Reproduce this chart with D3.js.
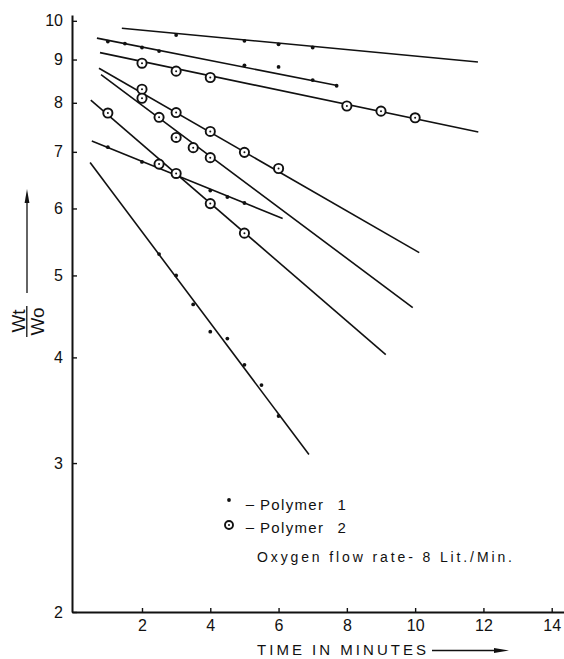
<!DOCTYPE html>
<html>
<head>
<meta charset="utf-8">
<script src="https://cdn.jsdelivr.net/npm/d3@7"></script>
<style>
  body { margin: 0; background: #fff; }
  svg { display: block; }
  text { font-family: "Liberation Sans", Arial, sans-serif; fill: #111; }
</style>
</head>
<body>
<svg id="chart" width="564" height="659"></svg>
<script>
// Axis ticks
const timeTicks = [2, 4, 6, 8, 10, 12, 14];
const ratioTicks = [2, 3, 4, 5, 6, 7, 8, 9, 10];

// Polymer 1 runs: time (min), Wt/Wo readings, fitted line ends [[t, ratio], [t, ratio]]
const p1aTime  = [3, 5, 6, 7];
const p1aRatio = [9.62, 9.47, 9.38, 9.30];
const p1aFit   = [[1.41, 9.80], [11.84, 8.94]];

const p1bTime  = [1, 1.5, 2, 2.5, 5, 6, 7, 7.7];
const p1bRatio = [9.45, 9.40, 9.30, 9.21, 8.86, 8.82, 8.51, 8.38];
const p1bFit   = [[0.68, 9.54], [7.68, 8.39]];

const p1cTime  = [1, 2, 4, 4.5, 5];
const p1cRatio = [7.09, 6.81, 6.30, 6.19, 6.09];
const p1cFit   = [[0.53, 7.21], [6.12, 5.84]];

const p1dTime  = [2.5, 3, 3.5, 4, 4.5, 5, 5.5, 6];
const p1dRatio = [5.30, 5.00, 4.62, 4.29, 4.21, 3.92, 3.71, 3.41];
const p1dFit   = [[0.48, 6.80], [6.89, 3.07]];

// Polymer 2 runs
const p2aTime  = [2, 3, 4, 8, 9, 10];
const p2aRatio = [8.91, 8.72, 8.57, 7.93, 7.82, 7.68];
const p2aFit   = [[0.77, 9.17], [11.85, 7.39]];

const p2bTime  = [2, 3, 4, 5, 6];
const p2bRatio = [8.30, 7.79, 7.40, 6.99, 6.69];
const p2bFit   = [[0.74, 8.79], [10.12, 5.32]];

const p2cTime  = [2, 2.5, 3, 3.5, 4];
const p2cRatio = [8.10, 7.69, 7.28, 7.08, 6.89];
const p2cFit   = [[0.80, 8.64], [9.93, 4.58]];

const p2dTime  = [1, 2.5, 3, 4, 5];
const p2dRatio = [7.78, 6.77, 6.60, 6.08, 5.61];
const p2dFit   = [[0.50, 8.06], [9.14, 4.03]];

const runs = [
  { polymer: 1, time: p1aTime, ratio: p1aRatio, fit: p1aFit },
  { polymer: 1, time: p1bTime, ratio: p1bRatio, fit: p1bFit },
  { polymer: 1, time: p1cTime, ratio: p1cRatio, fit: p1cFit },
  { polymer: 1, time: p1dTime, ratio: p1dRatio, fit: p1dFit },
  { polymer: 2, time: p2aTime, ratio: p2aRatio, fit: p2aFit },
  { polymer: 2, time: p2bTime, ratio: p2bRatio, fit: p2bFit },
  { polymer: 2, time: p2cTime, ratio: p2cRatio, fit: p2cFit },
  { polymer: 2, time: p2dTime, ratio: p2dRatio, fit: p2dFit }
];

const svg = d3.select("#chart");

const x = d3.scaleLinear().domain([-0.05, 14.36]).range([72, 564]);
const y = d3.scaleLog().domain([2, 10.16]).range([612, 15]);

// Axes
const gx = svg.append("g")
  .attr("transform", `translate(0,${y(2)})`)
  .call(d3.axisBottom(x).tickValues(timeTicks).tickFormat(d3.format("d"))
    .tickSize(-4).tickSizeOuter(0).tickPadding(8));
const gy = svg.append("g")
  .attr("transform", `translate(${x.range()[0]},0)`)
  .call(d3.axisLeft(y).tickValues(ratioTicks).tickFormat(d3.format("d"))
    .tickSize(-5).tickSizeOuter(0).tickPadding(9));

[gx, gy].forEach(g => {
  g.select(".domain").attr("stroke", "#111").attr("stroke-width", 2);
  g.selectAll(".tick line").attr("stroke", "#111").attr("stroke-width", 1.4);
  g.selectAll(".tick text").attr("font-size", 16).attr("fill", "#111")
    .style("font-family", '"Liberation Sans", Arial, sans-serif');
});

// Fitted lines
const line = d3.line().x(d => x(d[0])).y(d => y(d[1]));
svg.append("g").selectAll("path")
  .data(runs)
  .join("path")
  .attr("d", d => line(d.fit))
  .attr("fill", "none")
  .attr("stroke", "#111")
  .attr("stroke-width", 1.6);

// Observed points
runs.forEach(run => {
  const pts = run.time.map((t, i) => [t, run.ratio[i]]);
  const g = svg.append("g");
  if (run.polymer === 1) {
    g.selectAll("circle").data(pts).join("circle")
      .attr("cx", d => x(d[0])).attr("cy", d => y(d[1]))
      .attr("r", 1.9).attr("fill", "#111");
  } else {
    g.selectAll("circle.ring").data(pts).join("circle")
      .attr("class", "ring")
      .attr("cx", d => x(d[0])).attr("cy", d => y(d[1]))
      .attr("r", 4.6).attr("fill", "#fff")
      .attr("stroke", "#111").attr("stroke-width", 1.9);
    g.selectAll("circle.core").data(pts).join("circle")
      .attr("class", "core")
      .attr("cx", d => x(d[0])).attr("cy", d => y(d[1]))
      .attr("r", 1).attr("fill", "#111");
  }
});

// X axis title with arrow
svg.append("text")
  .attr("x", 257).attr("y", 655)
  .attr("font-size", 15)
  .attr("textLength", 169).attr("lengthAdjust", "spacing")
  .text("TIME IN MINUTES");
svg.append("line")
  .attr("x1", 432).attr("x2", 496).attr("y1", 650.5).attr("y2", 650.5)
  .attr("stroke", "#111").attr("stroke-width", 1.4);
svg.append("path")
  .attr("d", "M494,648 L509,650.5 L494,653 Z")
  .attr("fill", "#111");

// Y axis title: Wt / Wo fraction with arrow
svg.append("text")
  .attr("transform", "translate(25,321) rotate(-90)")
  .attr("text-anchor", "middle").attr("font-size", 19)
  .text("Wt");
svg.append("text")
  .attr("transform", "translate(43.5,321.5) rotate(-90)")
  .attr("text-anchor", "middle").attr("font-size", 19)
  .text("Wo");
svg.append("line")
  .attr("x1", 26.8).attr("x2", 26.8).attr("y1", 306).attr("y2", 337)
  .attr("stroke", "#111").attr("stroke-width", 1.3);
svg.append("line")
  .attr("x1", 27).attr("x2", 27).attr("y1", 293).attr("y2", 200)
  .attr("stroke", "#111").attr("stroke-width", 1.3);
svg.append("path")
  .attr("d", "M27,189 L24.6,203 L29.4,203 Z")
  .attr("fill", "#111");

// Legend
const legend = svg.append("g");
legend.append("circle").attr("cx", 229).attr("cy", 500).attr("r", 1.9).attr("fill", "#111");
legend.append("circle").attr("cx", 229).attr("cy", 525).attr("r", 4)
  .attr("fill", "#fff").attr("stroke", "#111").attr("stroke-width", 1.9);
legend.append("circle").attr("cx", 229).attr("cy", 525).attr("r", 1).attr("fill", "#111");

[[509.5, "1"], [533, "2"]].forEach(([by, num]) => {
  legend.append("text").attr("x", 250).attr("y", by - 1).attr("font-size", 15)
    .attr("text-anchor", "middle").text("–");
  legend.append("text").attr("x", 260).attr("y", by).attr("font-size", 15)
    .attr("textLength", 63).attr("lengthAdjust", "spacing").text("Polymer");
  legend.append("text").attr("x", 337.5).attr("y", by).attr("font-size", 15).text(num);
});
legend.append("text").attr("x", 257).attr("y", 561.5).attr("font-size", 14)
  .attr("textLength", 255).attr("lengthAdjust", "spacing")
  .text("Oxygen flow rate- 8 Lit./Min.");
</script>
</body>
</html>
